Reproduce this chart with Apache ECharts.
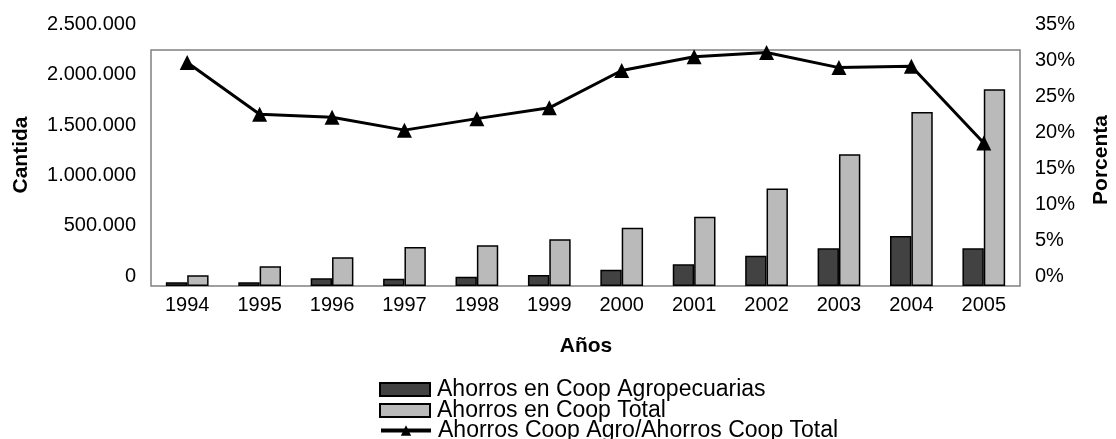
<!DOCTYPE html>
<html>
<head>
<meta charset="utf-8">
<script src="https://cdn.jsdelivr.net/npm/echarts@6/dist/echarts.min.js"></script>
<style>
  html, body { margin: 0; padding: 0; background: #fff; }
  #chart { width: 1116px; height: 439px; }
</style>
</head>
<body>
<div id="chart"></div>
<script>
const years = ['1994', '1995', '1996', '1997', '1998', '1999', '2000', '2001', '2002', '2003', '2004', '2005']
const ahorrosAgro = [37000, 37000, 76000, 73000, 92000, 109000, 162000, 215000, 301000, 374000, 497000, 374000]
const ahorrosTotal = [106000, 196000, 285000, 387000, 404000, 464000, 579000, 688000, 970000, 1308000, 1728000, 1956000]
const porcentaje = [29.7, 22.5, 22.1, 20.3, 21.9, 23.4, 28.6, 30.5, 31.1, 29.0, 29.2, 18.5]
const seriesNames = ['Ahorros en Coop Agropecuarias', 'Ahorros en Coop Total', 'Ahorros Coop Agro/Ahorros Coop Total']

const font = '"Liberation Sans", Arial, sans-serif'
const fmtMiles = v => v === 0 ? '0' : String(v).replace(/\B(?=(\d{3})+(?!\d))/g, '.')

const chart = echarts.init(document.getElementById('chart'))

// one legend per row so the rows can sit as tight as in the original
const legendRow = (name, top, icon) => ({
  orient: 'vertical', left: 379, top,
  itemWidth: 50, itemHeight: 13, padding: 0,
  lineStyle: { width: 4 },
  textStyle: { fontSize: 23, fontFamily: font, color: '#000', padding: [0, 0, 0, 2] },
  data: [icon ? { name, icon } : name]
})

chart.setOption({
  animation: false,
  textStyle: { fontFamily: font, color: '#000' },
  grid: [
    // plot box holding the bars
    { left: 151, top: 50, width: 869, height: 236, show: true, borderColor: '#808080', borderWidth: 1.5, backgroundColor: '#fff' },
    // scale used for the tick labels and the line
    { left: 151, top: 24.5, width: 869, height: 251.5 }
  ],
  xAxis: [
    {
      type: 'category', gridIndex: 0, data: years,
      axisLine: { show: false }, axisTick: { show: false },
      axisLabel: { color: '#000', fontSize: 20, fontFamily: font, margin: 9 }
    },
    { type: 'category', gridIndex: 1, data: years, show: false }
  ],
  yAxis: [
    { type: 'value', gridIndex: 0, min: 0, max: 2345000, show: false },
    {
      type: 'value', gridIndex: 1, position: 'left', min: 0, max: 2500000, interval: 500000,
      axisLine: { show: false }, axisTick: { show: false }, splitLine: { show: false },
      axisLabel: { color: '#000', fontSize: 20, fontFamily: font, margin: 15, formatter: fmtMiles }
    },
    {
      type: 'value', gridIndex: 1, position: 'right', min: 0, max: 35, interval: 5,
      axisLine: { show: false }, axisTick: { show: false }, splitLine: { show: false },
      axisLabel: { color: '#000', fontSize: 20, fontFamily: font, margin: 15, formatter: v => v + '%' }
    }
  ],
  legend: [
    legendRow(seriesNames[0], 378, 'rect'),
    legendRow(seriesNames[1], 399, 'rect'),
    legendRow(seriesNames[2], 419)
  ],
  graphic: [
    { type: 'text', x: 21, y: 155, rotation: Math.PI / 2, style: { text: 'Cantida', font: 'bold 21px ' + font, fill: '#000', align: 'center', verticalAlign: 'middle' } },
    { type: 'text', x: 1101, y: 160, rotation: Math.PI / 2, style: { text: 'Porcenta', font: 'bold 21px ' + font, fill: '#000', align: 'center', verticalAlign: 'middle' } },
    { type: 'text', x: 586, y: 346, style: { text: 'Años', font: 'bold 21px ' + font, fill: '#000', align: 'center', verticalAlign: 'middle' } }
  ],
  series: [
    {
      name: seriesNames[0], type: 'bar', xAxisIndex: 0, yAxisIndex: 0,
      data: ahorrosAgro, barGap: '0%', barCategoryGap: '41%',
      itemStyle: { color: '#424242', borderColor: '#000', borderWidth: 1.5 }
    },
    {
      name: seriesNames[1], type: 'bar', xAxisIndex: 0, yAxisIndex: 0,
      data: ahorrosTotal, barGap: '0%', barCategoryGap: '41%',
      itemStyle: { color: '#bababa', borderColor: '#000', borderWidth: 1.5 }
    },
    {
      name: seriesNames[2], type: 'line', xAxisIndex: 1, yAxisIndex: 2,
      data: porcentaje, symbol: 'triangle', symbolSize: 15,
      lineStyle: { color: '#000', width: 3 }, itemStyle: { color: '#000' }
    }
  ]
})
</script>
</body>
</html>
